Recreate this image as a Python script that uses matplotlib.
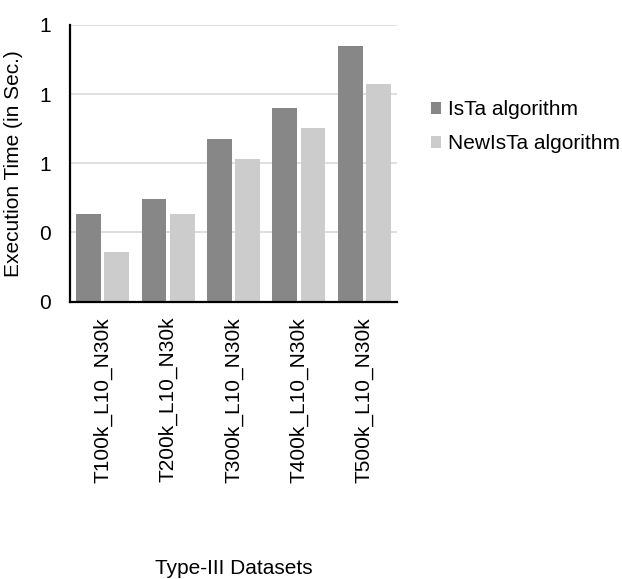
import matplotlib
matplotlib.use("Agg")
import matplotlib.pyplot as plt
import numpy as np

plt.rcParams['font.family'] = ['Liberation Sans', 'DejaVu Sans']
plt.rcParams['font.size'] = 15

# data
datasets = ["T100k_L10_N30k", "T200k_L10_N30k", "T300k_L10_N30k",
            "T400k_L10_N30k", "T500k_L10_N30k"]
ista = [0.378, 0.445, 0.707, 0.838, 1.109]
new_ista = [0.215, 0.378, 0.620, 0.752, 0.945]
series_names = ["IsTa algorithm", "NewIsTa algorithm"]
yticks = [0, 0.3, 0.6, 0.9, 1.2]

fig = plt.figure(figsize=(6.22, 5.79), dpi=100)
ax = fig.add_axes([70 / 622, 1 - 301.5 / 579, 327 / 622, 276.5 / 579])

x = np.arange(len(datasets))
w = 0.38
off = 0.215
ax.bar(x - off, ista, w, color="#878787", label=series_names[0], zorder=3)
ax.bar(x + off, new_ista, w, color="#cccccc", label=series_names[1], zorder=3)

ax.set_xlim(-0.5, len(datasets) - 0.5)
ax.set_ylim(0, 1.2)
ax.set_yticks(yticks)
ax.set_yticklabels([f"{t:.0f}" for t in yticks])
ax.set_xticks(x)
ax.set_xticklabels(datasets, rotation=90)
ax.tick_params(axis='y', length=0, pad=14)
ax.tick_params(axis='x', length=0, pad=11)

ax.grid(axis='y', color="#d9d9d9", linewidth=1.2, zorder=0)
for s in ['top', 'right']:
    ax.spines[s].set_visible(False)
for s in ['left', 'bottom']:
    ax.spines[s].set_linewidth(1.6)
    ax.spines[s].set_zorder(4)

ax.set_ylabel("Execution Time (in Sec.)")
ax.yaxis.set_label_coords(-0.144, 0.5)
fig.text(233.5 / 622, 1 - 568 / 579, "Type-III Datasets",
         ha='center', va='center')

fig.legend(loc='upper left', bbox_to_anchor=(431 / 622, 1 - 100 / 579),
           frameon=False, borderpad=0, borderaxespad=0,
           handlelength=0.5, handleheight=0.5, handletextpad=0.3,
           labelspacing=0.72)

fig.savefig("out.png", dpi=100)
